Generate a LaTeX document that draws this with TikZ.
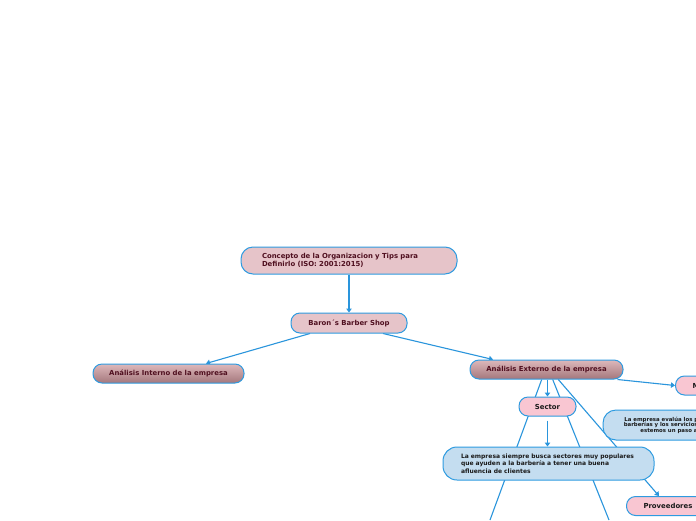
\documentclass[tikz,border=0pt]{standalone}
\usepackage{fontspec}
\setmainfont{DejaVu Sans}
\usetikzlibrary{arrows.meta,calc}
\definecolor{edgeblue}{HTML}{2E9BE0}
\definecolor{connblue}{HTML}{2A95DC}
\definecolor{rosebox}{HTML}{E6C4C9}
\definecolor{pinkbox}{HTML}{F9C6D2}
\definecolor{bluebox}{HTML}{C4DDF0}
\definecolor{gradtop}{HTML}{DDB8BB}
\definecolor{gradbot}{HTML}{A4777C}
\definecolor{maroontext}{HTML}{4F0F1F}
\definecolor{inktext}{HTML}{1A1A1A}
\pgfdeclarelayer{bglayer}
\pgfdeclarelayer{linklayer}
\pgfsetlayers{bglayer,linklayer,main}
\begin{document}
\begin{tikzpicture}[x=1pt,y=-1pt,
 box/.style={draw=edgeblue, line width=1pt, rounded corners=9pt, inner ysep=0pt,
   font=\fontsize{6.9}{8.3}\selectfont\bfseries},
 rosenode/.style={box, fill=rosebox, text=maroontext},
 gradnode/.style={box, top color=gradtop, bottom color=gradbot, text=maroontext},
 pinknode/.style={box, fill=pinkbox, text=inktext},
 bluenode/.style={box, fill=bluebox, text=inktext},
 link/.style={draw=connblue, line width=1.1pt},
 arr/.style={link, -{Triangle[width=5.5pt,length=4pt]}}
]
\useasboundingbox (0,0) rectangle (696,520);
\clip (0,0) rectangle (696,520);
\begin{pgfonlayer}{bglayer}
\fill[white] (0,0) rectangle (696,520);
\end{pgfonlayer}

\node[rosenode, minimum width=216pt, minimum height=27pt, text width=174pt,
  inner xsep=21pt, align=left, rounded corners=12pt] (top) at (349,260.5)
  {Concepto de la Organizacion y Tips para\\Definirlo (ISO: 2001:2015)};
\node[rosenode, minimum width=116pt, minimum height=20pt] (baron) at (349,323)
  {Baron´s Barber Shop};
\node[gradnode, minimum width=151pt, minimum height=19pt] (interno) at (168.5,373.5)
  {Análisis Interno de la empresa};
\node[gradnode, minimum width=153pt, minimum height=19pt] (externo) at (546.5,369.5)
  {Análisis Externo de la empresa};
\node[pinknode, minimum width=57pt, minimum height=19pt] (sector) at (547.5,406.5)
  {Sector};
\node[bluenode, minimum width=211pt, minimum height=33pt, text width=175pt,
  inner xsep=18pt, align=left, rounded corners=14pt,
  font=\fontsize{6}{7.5}\selectfont\bfseries] (sectordesc) at (548.5,463.5)
  {La empresa siempre busca sectores muy populares\\que ayuden a la barbería a tener una buena\\afluencia de clientes};
\node[pinknode, anchor=west, minimum height=19pt, inner xsep=17pt] (mercado) at (675,385.5)
  {Mercado};
\node[bluenode, minimum width=155pt, minimum height=30pt, align=center,
  rounded corners=13pt, font=\fontsize{5.4}{5.6}\selectfont\bfseries] (evalua) at (680.5,425)
  {La empresa evalúa los precios de las\\barberías y los servicios para que así\\estemos un paso adelante};
\node[pinknode, anchor=west, minimum height=19pt, inner xsep=17pt] (prov) at (626,506)
  {Proveedores};

\coordinate (down1) at (490,520);
\coordinate (down2) at (609,520);

\begin{pgfonlayer}{linklayer}
\draw[arr] (top.south) -- (baron.north);
\draw[arr] ($(baron.south)+(-39,0)$) -- ($(interno.north)+(37.5,0)$);
\draw[arr] ($(baron.south)+(34,0)$) -- ($(externo.north)+(-53.5,0)$);
\draw[arr] ($(externo.south east)+(-6,0)$) -- (mercado.west);
\draw[arr] ($(externo.south)+(1,0)$) -- (sector.north);
\draw[arr, shorten <=4pt] (sector.south) -- (sector.south |- sectordesc.north);
\draw[link] ($(externo.south)+(-4.8,0)$) -- (down1);
\draw[link] ($(externo.south)+(6.2,0)$) -- (down2);
\draw[arr] ($(externo.south)+(11.8,0)$) -- ($(prov.north west)+(33,0)$);
\end{pgfonlayer}
\end{tikzpicture}
\end{document}
